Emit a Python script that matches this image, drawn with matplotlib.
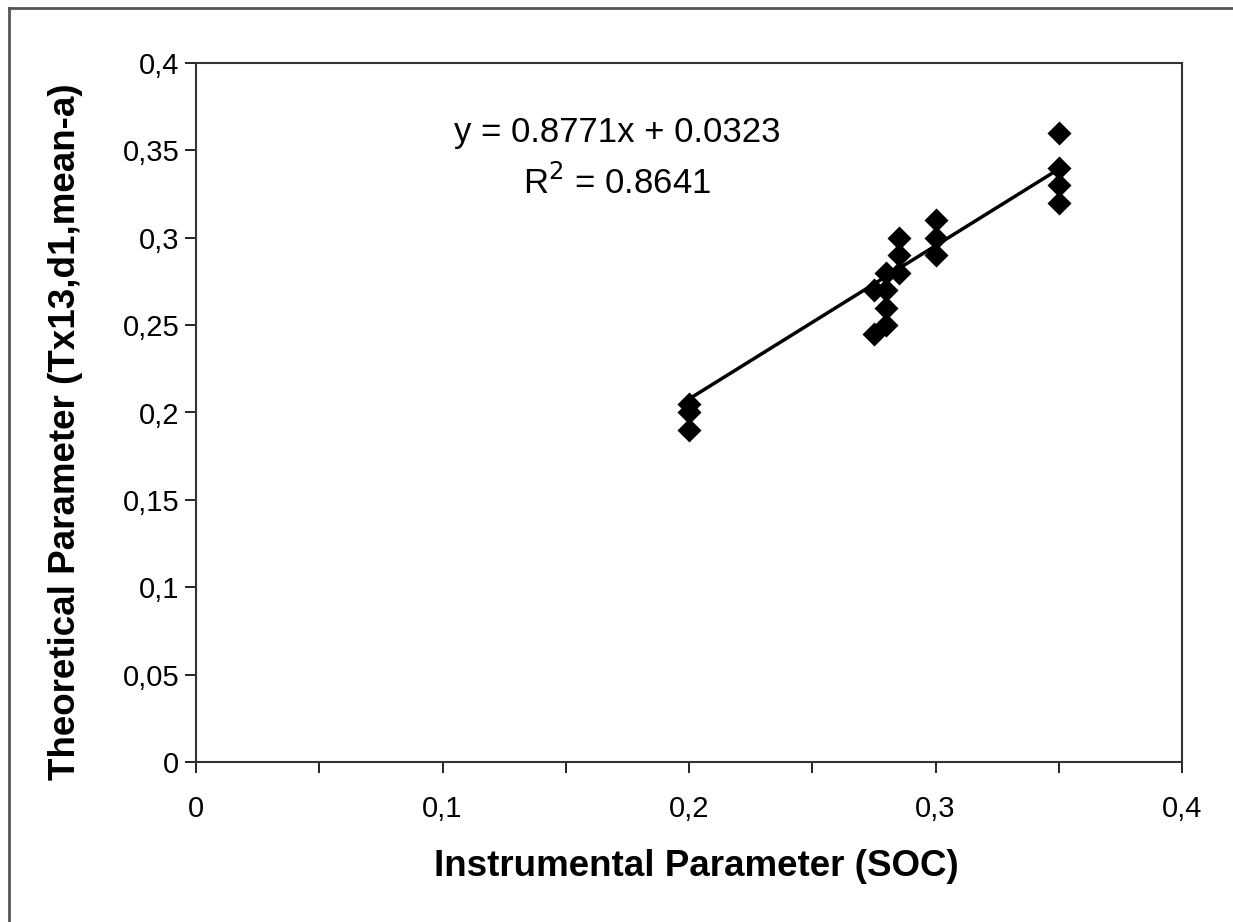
import numpy as np
import matplotlib.pyplot as plt
from matplotlib.lines import Line2D

# Datos
soc = [0.2, 0.2, 0.2, 0.275, 0.275, 0.28, 0.28, 0.28, 0.28,
       0.285, 0.285, 0.285, 0.3, 0.3, 0.3, 0.35, 0.35, 0.35, 0.35]
teorico = [0.205, 0.2, 0.19, 0.27, 0.245, 0.28, 0.27, 0.26, 0.25,
           0.3, 0.29, 0.28, 0.31, 0.3, 0.29, 0.36, 0.34, 0.33, 0.32]

# Recta de tendencia (como en la etiqueta)
pendiente = 0.8771
interseccion = 0.0323
r2 = 0.8641

xticks = [0, 0.05, 0.1, 0.15, 0.2, 0.25, 0.3, 0.35, 0.4]
xlabels = ['0', '', '0,1', '', '0,2', '', '0,3', '', '0,4']
yticks = [0, 0.05, 0.1, 0.15, 0.2, 0.25, 0.3, 0.35, 0.4]
ylabels = ['0', '0,05', '0,1', '0,15', '0,2', '0,25', '0,3', '0,35', '0,4']

plt.rcParams['font.family'] = ['Liberation Sans', 'DejaVu Sans']

fig = plt.figure(figsize=(12.33, 9.22), dpi=100)
ax = fig.add_axes([196/1233, 160/922, 986/1233, 699/922])

ax.scatter(soc, teorico, marker='D', s=150, color='black', zorder=3, linewidths=0)

xs = np.array([min(soc), max(soc)])
ax.plot(xs, pendiente * xs + interseccion, color='black', lw=2.5, zorder=2)

ax.set_xlim(0, 0.4)
ax.set_ylim(0, 0.4)
ax.set_xticks(xticks)
ax.set_xticklabels(xlabels, fontsize=21)
ax.set_yticks(yticks)
ax.set_yticklabels(ylabels, fontsize=21)
ax.tick_params(direction='out', length=8, width=1.2, pad=4)
ax.tick_params(axis='x', pad=16)
for s in ax.spines.values():
    s.set_linewidth(1.5)
    s.set_color('#333333')

ax.text(0.171, 0.36, f'y = {pendiente}x + {interseccion}', fontsize=25,
        ha='center', va='center')
ax.text(0.171, 0.3315, f'R$^2$ = {r2}', fontsize=25, ha='center', va='center')

fig.text(696/1233, 1 - 866/922, 'Instrumental Parameter (SOC)', fontsize=26.5,
         fontweight='bold', ha='center', va='center')
fig.text(66/1233, 1 - 432/922, 'Theoretical Parameter (Tx13,d1,mean-a)', fontsize=26.5,
         fontweight='bold', ha='center', va='center', rotation=90)

# marco exterior (solo arriba e izquierda visibles)
fig.add_artist(Line2D([9/1233, 9/1233], [0, 1 - 8/922], transform=fig.transFigure,
                      color='#555555', lw=2))
fig.add_artist(Line2D([9/1233, 1], [1 - 8/922, 1 - 8/922], transform=fig.transFigure,
                      color='#555555', lw=2))

fig.savefig('out.png', dpi=100, facecolor='white')
